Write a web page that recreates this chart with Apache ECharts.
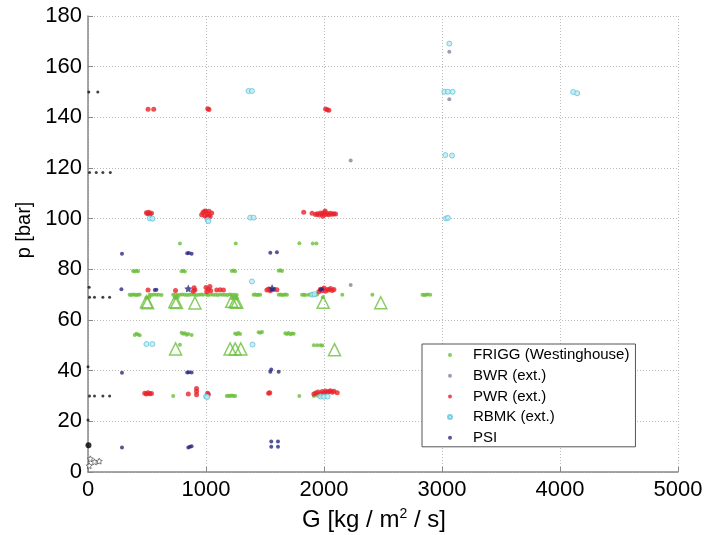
<!DOCTYPE html>
<html>
<head>
<meta charset="utf-8">
<script src="https://cdn.jsdelivr.net/npm/echarts@6/dist/echarts.min.js"></script>
<style>html,body{margin:0;padding:0;background:#fff;}#c{width:706px;height:535px;}</style>
</head>
<body>
<div id="c"></div>
<script>
// ---- data: [G (kg/m2/s), p (bar)] ----
var xTicks = [0, 1000, 2000, 3000, 4000, 5000];
var yTicks = [0, 20, 40, 60, 80, 100, 120, 140, 160, 180];

var friggDots = [
  [779,90.2],[1252,90.2],[1791,90.3],[1905,90.2],[1936,90.2],
  [382,79.3],[396,79.1],[410,79.4],[424,79.2],[793,79.2],[807,79.4],[821,79.1],
  [1218,79.3],[1233,79.5],[1247,79.2],[1616,79.4],[1630,79.6],[1644,79.3],
  [353,70],[367,69.9],[382,70.1],[396,70],[410,69.9],[424,70],[438,70.1],
  [523,70],[540,69.9],[560,70.1],[580,70],[600,70],[623,69.9],
  [722,70],[740,70.1],[760,69.9],[780,70],[800,70.1],[820,70],[840,69.9],[860,70],[880,70.1],[900,70],[920,69.9],[940,70],[960,70.1],[977,70],
  [1006,70],[1020,69.9],[1040,70.1],[1060,70],[1080,70],[1100,69.9],[1120,70.1],[1140,70],[1160,70],[1180,69.9],[1200,70.1],[1220,70],[1240,70],[1261,69.9],
  [1403,70],[1417,70.1],[1431,69.9],[1445,70],[1460,70],
  [1616,70],[1630,70.1],[1644,69.9],[1658,70],[1672,70.1],[1686,70],
  [1814,70],[1828,70],[1843,69.9],[1871,70],[1885,70.1],[1899,70],[1914,69.9],[1928,70],[1942,70.1],
  [2155,70],[2410,70],[2835,70],[2850,69.9],[2864,70],[2878,70.1],[2900,70],
  [495,68.8],[520,69.0],[736,68.8],[760,69],[1218,68.6],[1240,69],[1261,68.5],[1990,69],
  [396,54.1],[410,54.6],[424,54.3],[438,54.0],[793,55.0],[807,54.6],[821,54.8],[835,54.2],[850,54.5],[878,54.1],
  [1247,54.7],[1261,54.4],[1275,54.9],[1289,54.5],[1446,55.2],[1460,55.0],[1475,55.3],
  [1672,54.8],[1686,54.5],[1700,54.9],[1715,54.4],[1729,54.7],[1743,54.6],
  [779,50.2],[1914,50],[1942,50],[1970,50],[1985,49.9],
  [722,30],[1176,30],[1190,30.1],[1204,30],[1218,30.2],[1233,30],[1247,30],[1791,30],[1914,30],[1942,30.2],[1970,30]
];
var friggTriangles = [
  [495,67.2],[505,66.8],[736,67.2],[750,66.9],[906,66.7],[1218,67.4],[1247,67.2],[1261,67.0],[1993,67.0],[2481,66.8],
  [742,48.6],[1204,48.6],[1247,48.6],[1295,48.6],[2089,48.3]
];
var bwr = [[2226,123],[3062,165.9],[3062,147.1],[2226,73.8]];
var pwr = [
  [509,143.2],[557,143.2],[1015,143.4],[1025,143.1],[2013,143.3],[2028,143.0],[2041,142.8],
  [495,102.3],[505,101.9],[515,102.5],[525,101.8],[538,102.1],
  [963,101.5],[975,102.5],[990,101.2],[1000,102.8],[1006,100.5],[1015,101.8],[1025,102.9],[1035,101.0],[1048,102.2],[990,103],[1020,100.9],
  [1828,102.5],[1899,102.1],[1928,101.6],[1942,101.9],[1956,101.4],[1970,102.2],[1985,101.8],[2000,102.4],[2013,101.6],[2028,102.0],[2041,101.5],[2055,102.1],[2070,101.7],[2084,101.9],[2098,101.8],[1990,101],[2010,103],
  [509,71.8],[742,71.6],[892,71.3],[899,72.7],[906,71.8],[1000,72.8],[1006,71.2],[1020,72.1],[1033,73.2],[1040,71.5],[1091,71.8],[1120,71.9],[1148,71.8],
  [1516,71.8],[1531,72.2],[1545,71.5],[1601,71.9],
  [1956,71.2],[1970,72.1],[1985,71.5],[2000,72.6],[2013,71.3],[2028,72.0],[2041,71.8],[2055,72.4],[2070,71.6],[2084,72.0],
  [481,31.1],[495,30.8],[509,31.3],[524,30.9],[538,31.0],[850,30.8],[920,30.5],[920,31.8],[920,33.0],[1014,31.1],[1020,30.6],
  [1531,31.1],[1540,31.3],[1914,30.8],[1930,31.2],[1950,31.6],[1970,30.9],[1985,31.8],[2000,31.2],[2013,32.0],[2028,31.4],[2041,31.8],[2055,32.1],[2070,31.5],[2084,31.9],[2112,31.3]
];
var rbmk = [
  [1360,150.4],[1389,150.4],[3062,169.1],[3020,150.1],[3050,150.1],[3090,150.1],[4112,150],[4146,149.5],
  [3028,125.1],[3085,124.9],[3034,100.1],[3050,100.3],[524,100.1],[546,100.0],[1014,99.5],[1020,99.0],
  [1375,100.4],[1403,100.4],[1389,75.2],[1899,70.0],[1920,70.2],[495,50.5],[546,50.5],[1394,50.3],
  [1000,29.8],[1010,29.6],[1970,29.8],[2000,29.7],[2030,29.8]
];
var psi = [
  [288,86.2],[841,86.3],[855,86.4],[878,86.2],[1545,86.5],[1601,86.7],
  [283,72.1],[566,71.8],[580,71.9],[1559,71.9],[1575,72.0],[1970,71.9],[1984,72.2],
  [288,39.2],[841,39.3],[855,39.4],[878,39.3],[1545,39.6],[1553,40.5],[1616,39.6],
  [288,9.7],[850,9.7],[864,10.0],[878,10.2],[1553,12.0],[1553,10.0],[1610,12.0],[1610,10.0]
];
var psiStars = [[850,72.4],[1560,72.6]];
var blackDots = [
  [7,150],[83,150],[13,118.2],[70,118.2],[126,118.2],[189,118.2],[10,72.9],
  [13,69],[55,69],[126,69],[183,69],[13,30],[55,30],[126,30],[183,30],[0,41.5],[0,20.5]
];
var blackBig = [[4,10.6]];
var blackStars = [[20,5.2],[55,4.0],[95,4.3],[10,2.5]];

var C_GREEN = '#6cbf3c', C_GRAY = '#85859a', C_RED = '#e8232b', C_CYAN = '#5cc4dc', C_NAVY = '#2a2a80';
var STAR = 'path://M0,-10 L2.9,-4 L9.5,-3.1 L4.8,1.5 L5.9,8.1 L0,5 L-5.9,8.1 L-4.8,1.5 L-9.5,-3.1 L-2.9,-4 Z';

var chart = echarts.init(document.getElementById('c'));
var FONT = 'Liberation Sans';
chart.setOption({
  animation: false,
  backgroundColor: '#fff',
  grid: {left: 88, right: 28, top: 16, bottom: 63, containLabel: false, outerBoundsMode: 'none'},
  legend: {
    data: ['FRIGG (Westinghouse)', 'BWR (ext.)', 'PWR (ext.)', 'RBMK (ext.)', 'PSI'],
    orient: 'vertical', left: 422, top: 344,
    backgroundColor: '#fff', borderColor: '#555', borderWidth: 1,
    padding: [3, 6, 1, 25], itemGap: 4.7, itemWidth: 4, itemHeight: 4,
    icon: 'circle',
    textStyle: {fontFamily: FONT, fontSize: 15, color: '#000', lineHeight: 16, padding: [0, 0, 0, 16]}
  },
  xAxis: {
    type: 'value', min: 0, max: 5000, interval: 1000,
    name: 'G [kg / m{sup|2} / s]', nameLocation: 'middle', nameGap: 35,
    nameTextStyle: {fontFamily: FONT, fontSize: 24, color: '#000', padding: [0, 18, 0, 0], rich: {sup: {fontFamily: FONT, fontSize: 14, verticalAlign: 'top', padding: [0,0,12,0], color:'#000'}}},
    axisLine: {show: true, lineStyle: {color: '#888', width: 1.5}},
    axisTick: {show: true, inside: true, length: 5, lineStyle: {color: '#888'}},
    axisLabel: {fontFamily: FONT, fontSize: 22, color: '#000', margin: 7, formatter: function (v) { return String(v); }},
    splitLine: {show: true, lineStyle: {color: '#bbb', type: [1, 2], width: 1}}
  },
  yAxis: {
    type: 'value', min: 0, max: 180, interval: 20,
    name: 'p [bar]', nameLocation: 'middle', nameGap: 51, nameRotate: 90,
    nameTextStyle: {fontFamily: FONT, fontSize: 20, color: '#000', padding: [0, 0, 0, 28]},
    axisLine: {show: true, lineStyle: {color: '#888', width: 1.5}},
    axisTick: {show: true, inside: true, length: 5, lineStyle: {color: '#888'}},
    axisLabel: {fontFamily: FONT, fontSize: 22, color: '#000', margin: 6, formatter: function (v) { return String(v); }},
    splitLine: {show: true, lineStyle: {color: '#bbb', type: [1, 2], width: 1}}
  },
  series: [
    {name: 'FRIGG (Westinghouse)', type: 'scatter', data: friggDots, symbol: 'circle', symbolSize: 4, itemStyle: {color: C_GREEN}},
    {name: 'FRIGG triangles', type: 'scatter', data: friggTriangles, symbol: 'triangle', symbolSize: 12, itemStyle: {color: 'rgba(255,255,255,0)', borderColor: C_GREEN, borderWidth: 1.5}},
    {name: 'BWR (ext.)', type: 'scatter', data: bwr, symbol: 'circle', symbolSize: 4, itemStyle: {color: C_GRAY}},
    {name: 'PWR (ext.)', type: 'scatter', data: pwr, symbol: 'circle', symbolSize: 5, itemStyle: {color: C_RED}},
    {name: 'RBMK (ext.)', type: 'scatter', data: rbmk, symbol: 'circle', symbolSize: 5, itemStyle: {color: '#bfeaf4', borderColor: C_CYAN, borderWidth: 1}},
    {name: 'PSI', type: 'scatter', data: psi, symbol: 'circle', symbolSize: 4, itemStyle: {color: C_NAVY}},
    {name: 'PSI star', type: 'scatter', data: psiStars, symbol: STAR, symbolSize: 8, itemStyle: {color: C_NAVY}},
    {name: 'black dots', type: 'scatter', data: blackDots, symbol: 'circle', symbolSize: 3, itemStyle: {color: '#111'}},
    {name: 'black big', type: 'scatter', data: blackBig, symbol: 'circle', symbolSize: 6, itemStyle: {color: '#000'}},
    {name: 'black stars', type: 'scatter', data: blackStars, symbol: STAR, symbolSize: 6, itemStyle: {color: '#fff', borderColor: '#333', borderWidth: 0.8}}
  ]
});
</script>
</body>
</html>
